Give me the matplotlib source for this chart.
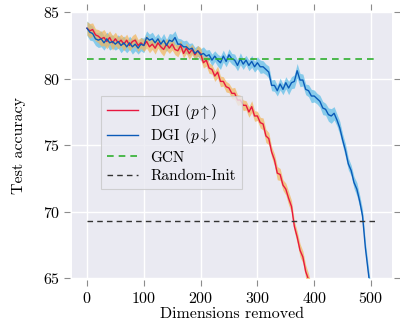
import numpy as np
import matplotlib
matplotlib.use("Agg")
import matplotlib.pyplot as plt

plt.rcParams["font.family"] = ["cmr10", "DejaVu Serif"]
plt.rcParams["mathtext.fontset"] = "cm"
plt.rcParams["axes.formatter.use_mathtext"] = True

# ── data ────────────────────────────────────────────────────────────
dims_up = np.arange(0, 400, 5)
acc_up = [83.8, 83.6, 83.7, 83.3, 83.2, 83.0, 83.1, 82.8, 83.1, 82.7,
          83.0, 82.7, 82.9, 82.6, 82.9, 82.5, 82.8, 82.9, 82.5, 82.7,
          82.5, 82.8, 82.4, 82.6, 82.3, 82.7, 82.4, 82.2, 82.6, 82.3,
          82.6, 82.2, 82.1, 82.5, 81.9, 82.3, 81.9, 82.2, 81.8, 82.1,
          81.9, 81.2, 81.4, 80.8, 80.7, 80.2, 80.5, 79.8, 79.8, 79.4,
          79.3, 78.9, 78.9, 78.4, 78.4, 78.0, 78.0, 77.5, 77.9, 77.2,
          77.2, 76.7, 76.6, 75.7, 75.5, 74.5, 73.9, 72.9, 72.8, 72.0,
          71.7, 71.0, 70.4, 68.9, 68.1, 67.1, 66.6, 65.5, 64.9, 64.0]
std_up = [0.50, 0.55, 0.50, 0.45, 0.50, 0.55, 0.60, 0.55, 0.50, 0.55,
          0.50, 0.45, 0.45, 0.50, 0.45, 0.40, 0.45, 0.50, 0.45, 0.40,
          0.45, 0.50, 0.45, 0.40, 0.45, 0.40, 0.45, 0.50, 0.45, 0.40,
          0.45, 0.40, 0.45, 0.40, 0.35, 0.40, 0.45, 0.40, 0.35, 0.40,
          0.45, 0.40, 0.45, 0.40, 0.35, 0.40, 0.45, 0.40, 0.35, 0.40,
          0.35, 0.40, 0.45, 0.40, 0.35, 0.40, 0.35, 0.40, 0.45, 0.40,
          0.35, 0.40, 0.45, 0.50, 0.45, 0.40, 0.45, 0.50, 0.45, 0.40,
          0.45, 0.50, 0.45, 0.40, 0.45, 0.50, 0.45, 0.50, 0.45, 0.45]

dims_down = np.arange(0, 505, 5)
acc_down = [83.8, 83.5, 83.4, 83.0, 82.9, 83.0, 82.7, 83.0, 82.7, 82.8,
            82.6, 82.8, 82.5, 82.7, 82.4, 82.7, 82.4, 82.6, 82.3, 82.6,
            82.5, 83.1, 82.9, 83.0, 82.7, 83.0, 82.6, 82.9, 82.5, 82.9,
            82.8, 83.1, 82.6, 82.6, 82.4, 82.4, 82.2, 82.3, 81.9, 82.1,
            81.8, 81.9, 81.7, 81.8, 81.4, 81.7, 81.4, 81.2, 81.7, 81.3,
            81.8, 81.5, 81.4, 81.0, 81.5, 81.1, 81.4, 81.0, 81.3, 80.9,
            81.2, 80.9, 80.9, 80.7, 80.5, 79.5, 79.5, 79.1, 79.6, 79.2,
            79.7, 79.3, 79.7, 79.8, 80.6, 79.9, 79.9, 79.2, 79.1, 78.7,
            78.7, 78.5, 78.3, 77.8, 77.7, 77.3, 77.2, 77.4, 76.9, 76.3,
            75.4, 74.6, 73.6, 73.1, 72.2, 71.7, 70.8, 69.7, 67.3, 65.5,
            63.8]
std_down = [0.55, 0.60, 0.55, 0.50, 0.55, 0.60, 0.55, 0.50, 0.55, 0.50,
            0.45, 0.50, 0.55, 0.50, 0.45, 0.50, 0.55, 0.50, 0.45, 0.50,
            0.55, 0.50, 0.45, 0.50, 0.45, 0.40, 0.45, 0.50, 0.45, 0.50,
            0.55, 0.50, 0.45, 0.40, 0.45, 0.50, 0.45, 0.40, 0.45, 0.40,
            0.45, 0.50, 0.45, 0.40, 0.45, 0.40, 0.45, 0.50, 0.45, 0.40,
            0.45, 0.40, 0.45, 0.40, 0.45, 0.40, 0.35, 0.40, 0.45, 0.40,
            0.45, 0.50, 0.45, 0.40, 0.45, 0.40, 0.45, 0.40, 0.45, 0.40,
            0.45, 0.50, 0.45, 0.50, 0.55, 0.50, 0.45, 0.40, 0.45, 0.50,
            0.45, 0.40, 0.45, 0.50, 0.45, 0.50, 0.55, 0.50, 0.45, 0.50,
            0.45, 0.50, 0.45, 0.40, 0.45, 0.50, 0.45, 0.50, 0.45, 0.50,
            0.45]

gcn_acc = 81.5
random_init_acc = 69.3
baseline_span = [0, 512]

# ── figure ───────────────────────────────────────────────────────────
fig = plt.figure(figsize=(4.0, 3.22), dpi=100)
ax = fig.add_axes([0.181, 0.136, 0.800, 0.826])
ax.set_facecolor("#eaeaf2")
ax.grid(True, color="white", lw=1.0)
ax.set_axisbelow(True)

acc_up = np.array(acc_up)
acc_down = np.array(acc_down)
std_up = np.array(std_up)
std_down = np.array(std_down)

ax.fill_between(dims_down, acc_down - std_down, acc_down + std_down,
                color="#5cbde8", alpha=0.7, lw=0)
ax.fill_between(dims_up, acc_up - std_up, acc_up + std_up,
                color="#f2b55a", alpha=0.7, lw=0)
ax.plot(dims_up, acc_up, color="#e8173f", lw=1.0, label=r"DGI ($p\uparrow$)")
ax.plot(dims_down, acc_down, color="#0a5ab8", lw=1.0, label=r"DGI ($p\downarrow$)")
ax.plot(baseline_span, [gcn_acc, gcn_acc], color="#2fb02f", lw=1.2,
        ls=(0, (4, 3)), label="GCN")
ax.plot(baseline_span, [random_init_acc, random_init_acc], color="#333333",
        lw=1.0, ls=(0, (4, 3)), label="Random-Init")

ax.set_xlim(-25.6, 537.6)
ax.set_ylim(65, 85)
ax.set_xticks([0, 100, 200, 300, 400, 500])
ax.set_yticks([65, 70, 75, 80, 85])

for side in ["left", "right", "top", "bottom"]:
    ax.spines[side].set_position(("outward", 1.5))
    ax.spines[side].set_visible(False)
ax.tick_params(direction="out", length=4.5, width=0.8, color="0.55",
               top=True, right=True, labeltop=False, labelright=False,
               labelsize=11.5, pad=3)

ax.set_xlabel("Dimensions removed", fontsize=11.5, labelpad=1)
ax.set_ylabel("Test accuracy", fontsize=11.5, labelpad=12)

leg = ax.legend(loc="lower left", bbox_to_anchor=(0.09, 0.335), borderaxespad=0,
                fontsize=11, frameon=True, fancybox=False, handlelength=2.0,
                labelspacing=0.3, borderpad=0.4)
leg.get_frame().set_facecolor("#eaeaf2")
leg.get_frame().set_edgecolor("#c8c8c8")
leg.get_frame().set_linewidth(0.8)

fig.savefig("out.png", dpi=100)
